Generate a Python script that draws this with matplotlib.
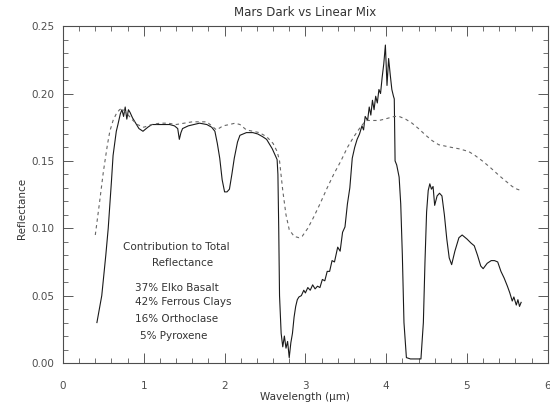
import matplotlib
matplotlib.use("Agg")
import matplotlib.pyplot as plt
from matplotlib.ticker import MultipleLocator

# Mars Dark spectrum (solid)
dark_x = [0.42, 0.48, 0.53, 0.56, 0.60, 0.62, 0.66, 0.68, 0.71, 0.73, 0.75, 0.77,
          0.79, 0.81, 0.83, 0.86, 0.89, 0.94, 0.99, 1.05, 1.10, 1.20, 1.32, 1.38,
          1.42, 1.44, 1.46, 1.48, 1.55, 1.62, 1.69, 1.78, 1.84, 1.88, 1.91, 1.94,
          1.97, 2.00, 2.03, 2.06, 2.09, 2.12, 2.16, 2.19, 2.27, 2.35, 2.41, 2.47,
          2.52, 2.55, 2.59, 2.62, 2.65, 2.66, 2.67, 2.68, 2.70, 2.72, 2.74, 2.76,
          2.78, 2.80, 2.82, 2.84, 2.86, 2.88, 2.90, 2.92, 2.95, 2.98, 3.00, 3.03,
          3.06, 3.09, 3.12, 3.15, 3.18, 3.21, 3.24, 3.27, 3.30, 3.33, 3.36, 3.40,
          3.43, 3.46, 3.49, 3.52, 3.55, 3.58, 3.61, 3.64, 3.67, 3.70, 3.72, 3.74,
          3.77, 3.79, 3.81, 3.83, 3.85, 3.87, 3.89, 3.91, 3.93, 3.95, 3.97, 3.99,
          4.01, 4.03, 4.05, 4.07, 4.09, 4.10, 4.11, 4.13, 4.16, 4.18, 4.20, 4.22,
          4.25, 4.30, 4.36, 4.43, 4.46, 4.48, 4.50, 4.52, 4.54, 4.56, 4.58, 4.60,
          4.63, 4.66, 4.69, 4.72, 4.75, 4.78, 4.81, 4.85, 4.90, 4.94, 5.00, 5.05,
          5.09, 5.13, 5.17, 5.20, 5.25, 5.30, 5.34, 5.38, 5.42, 5.46, 5.50, 5.53,
          5.56, 5.58, 5.61, 5.63, 5.65, 5.67]
dark_y = [0.030, 0.050, 0.080, 0.100, 0.135, 0.154, 0.172, 0.177, 0.185, 0.188, 0.183, 0.190,
          0.181, 0.188, 0.186, 0.182, 0.179, 0.174, 0.172, 0.175, 0.177, 0.177, 0.177, 0.176,
          0.174, 0.166, 0.171, 0.174, 0.176, 0.177, 0.178, 0.177, 0.175, 0.172, 0.163, 0.152,
          0.136, 0.127, 0.127, 0.129, 0.140, 0.152, 0.164, 0.169, 0.171, 0.171, 0.170, 0.168,
          0.166, 0.163, 0.159, 0.155, 0.151, 0.140, 0.100, 0.050, 0.022, 0.012, 0.020, 0.011,
          0.016, 0.004, 0.015, 0.022, 0.034, 0.042, 0.047, 0.049, 0.050, 0.054, 0.052, 0.056,
          0.054, 0.058, 0.055, 0.057, 0.056, 0.062, 0.061, 0.068, 0.068, 0.076, 0.075, 0.086,
          0.083, 0.097, 0.101, 0.118, 0.130, 0.152, 0.160, 0.166, 0.170, 0.176, 0.173, 0.183,
          0.180, 0.190, 0.184, 0.195, 0.188, 0.198, 0.193, 0.203, 0.200, 0.212, 0.222, 0.236,
          0.206, 0.226, 0.214, 0.203, 0.198, 0.196, 0.150, 0.147, 0.138, 0.118, 0.080, 0.030,
          0.004, 0.003, 0.003, 0.003, 0.030, 0.075, 0.112, 0.128, 0.133, 0.129, 0.131, 0.117,
          0.124, 0.126, 0.124, 0.110, 0.092, 0.078, 0.073, 0.083, 0.093, 0.095, 0.092, 0.089,
          0.087, 0.080, 0.072, 0.070, 0.074, 0.076, 0.076, 0.075, 0.068, 0.063, 0.057, 0.052,
          0.046, 0.049, 0.043, 0.047, 0.042, 0.045]

# Linear mix model (dashed)
mix_x = [0.40, 0.45, 0.50, 0.55, 0.58, 0.62, 0.66, 0.70, 0.73, 0.78, 0.85, 0.92,
         1.00, 1.10, 1.20, 1.30, 1.40, 1.50, 1.60, 1.70, 1.78, 1.84, 1.90, 1.98,
         2.06, 2.13, 2.19, 2.27, 2.35, 2.43, 2.52, 2.60, 2.65, 2.68, 2.72, 2.76,
         2.80, 2.86, 2.92, 2.96, 3.03, 3.10, 3.18, 3.27, 3.35, 3.44, 3.52, 3.60,
         3.68, 3.75, 3.83, 3.91, 3.98, 4.04, 4.10, 4.16, 4.24, 4.32, 4.40, 4.49,
         4.57, 4.65, 4.73, 4.81, 4.90, 5.02, 5.10, 5.19, 5.29, 5.40, 5.48, 5.56,
         5.62, 5.67]
mix_y = [0.095, 0.118, 0.142, 0.162, 0.172, 0.180, 0.185, 0.188, 0.189, 0.186, 0.181, 0.177,
         0.175, 0.177, 0.178, 0.178, 0.177, 0.178, 0.179, 0.179, 0.179, 0.176, 0.173, 0.176,
         0.177, 0.178, 0.177, 0.173, 0.172, 0.171, 0.168, 0.163, 0.157, 0.150, 0.128, 0.110,
         0.099, 0.094, 0.093, 0.094, 0.100, 0.108, 0.118, 0.130, 0.140, 0.150, 0.160, 0.168,
         0.175, 0.180, 0.180, 0.180, 0.181, 0.182, 0.183, 0.183, 0.181, 0.178, 0.174, 0.169,
         0.165, 0.162, 0.161, 0.160, 0.159, 0.157, 0.154, 0.150, 0.145, 0.139, 0.135, 0.131,
         0.129, 0.128]

title = "Mars Dark vs Linear Mix"
# (text, x, y, ha) for the note inside the plot
note = [("Contribution to Total", 1.40, 0.086, "center"),
        ("Reflectance", 1.48, 0.074, "center"),
        ("37% Elko Basalt", 0.89, 0.056, "left"),
        ("42% Ferrous Clays", 0.89, 0.045, "left"),
        ("16% Orthoclase", 0.89, 0.033, "left"),
        ("5% Pyroxene", 0.95, 0.020, "left")]

txt = "0.2"
fig = plt.figure(figsize=(5.5, 4.09), dpi=100)
ax = fig.add_axes([0.1145, 0.1125, 0.8815, 0.8235])

ax.plot(dark_x, dark_y, color="0.1", lw=0.8)
ax.plot(mix_x, mix_y, color="0.4", lw=0.8, linestyle=(0, (3, 3)))

ax.set_xlim(0, 6)
ax.set_ylim(0, 0.25)
ax.xaxis.set_major_locator(MultipleLocator(1))
ax.xaxis.set_minor_locator(MultipleLocator(0.2))
ax.yaxis.set_major_locator(MultipleLocator(0.05))
ax.yaxis.set_minor_locator(MultipleLocator(0.01))
ax.yaxis.set_major_formatter(plt.FormatStrFormatter("%.2f"))
ax.tick_params(which="both", direction="in", top=True, right=True,
               colors="0.35", labelcolor="0.3", labelsize=7.5)
ax.tick_params(which="major", length=7, width=0.7)
ax.tick_params(which="minor", length=3.5, width=0.6)
ax.tick_params(axis="x", pad=13)
ax.tick_params(axis="y", pad=6)
for s in ax.spines.values():
    s.set_color("0.3")
    s.set_linewidth(0.8)

ax.set_title(title, fontsize=8.5, color=txt, pad=7)
ax.set_xlabel("Wavelength (\u03bcm)", fontsize=7.5, color=txt, labelpad=1)
ax.set_ylabel("Reflectance", fontsize=7.5, color=txt)
ax.yaxis.set_label_coords(-0.075, 0.46)

for s, x, y, ha in note:
    ax.text(x, y, s, fontsize=7.5, color=txt, ha=ha, va="center")

fig.savefig("out.png", dpi=100)
